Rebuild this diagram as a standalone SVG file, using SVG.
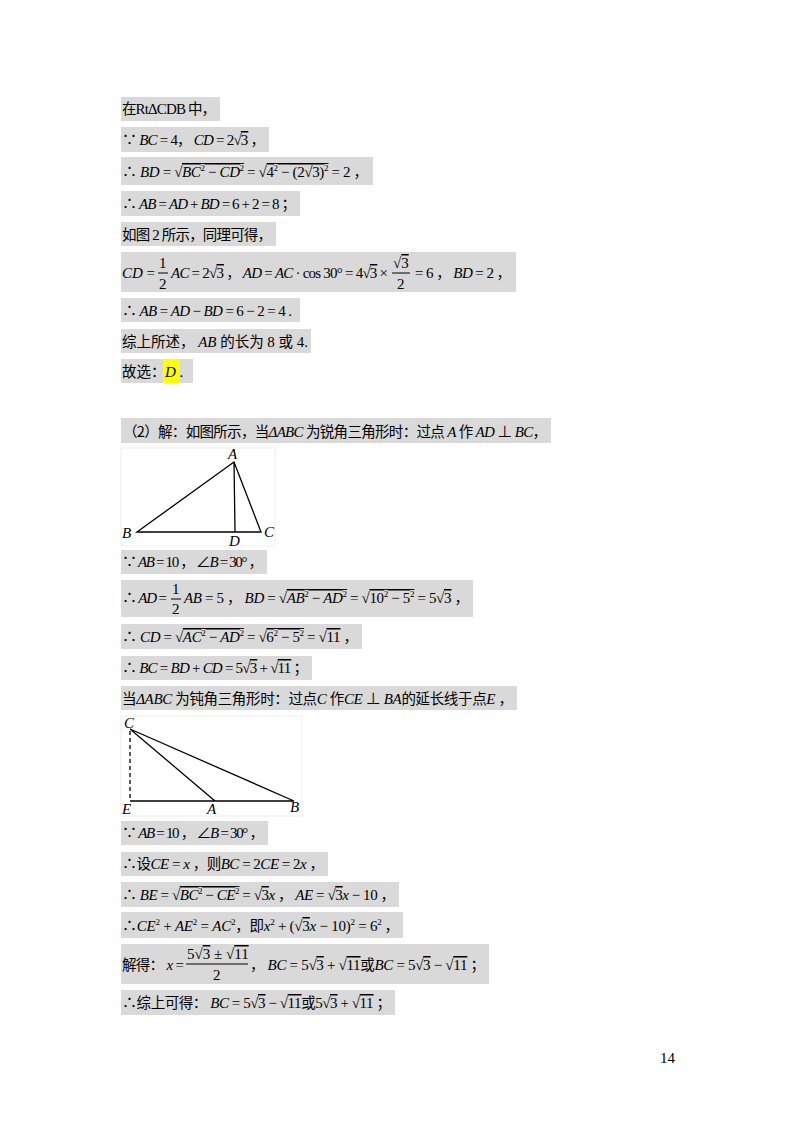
<svg xmlns="http://www.w3.org/2000/svg" width="800" height="1132" viewBox="0 0 800 1132">
<style>
text{font-family:"Liberation Serif","Noto Sans CJK SC",serif;font-size:15px;fill:#000}
.i{font-style:italic}
.c{font-family:"Noto Sans CJK SC","Liberation Sans",sans-serif;font-size:14.5px}
.s{font-size:9px}
.o{text-decoration:overline}
.bg{fill:#d9d9d9}
.fig{fill:#fff;stroke:#eee}
.ln{stroke:#000;stroke-width:1.3;fill:none}
</style>
<rect width="800" height="1132" fill="#fff"/>
<g id="boxes">
<rect class="bg" x="121" y="97" width="99" height="24"/>
<rect class="bg" x="121" y="127" width="148" height="25"/>
<rect class="bg" x="121" y="157" width="252" height="28"/>
<rect class="bg" x="121" y="191" width="179" height="25"/>
<rect class="bg" x="121" y="222" width="155" height="24"/>
<rect class="bg" x="121" y="252" width="395" height="40"/>
<rect class="bg" x="121" y="298" width="179" height="24"/>
<rect class="bg" x="121" y="329" width="190" height="24"/>
<rect class="bg" x="121" y="359" width="72" height="24"/>
<rect x="163" y="359" width="17" height="24" fill="#ffff00"/>
<rect class="bg" x="121" y="418" width="430" height="25"/>
<rect class="bg" x="121" y="550" width="146" height="24"/>
<rect class="bg" x="121" y="580" width="352" height="37"/>
<rect class="bg" x="121" y="624" width="241" height="25"/>
<rect class="bg" x="121" y="656" width="191" height="24"/>
<rect class="bg" x="121" y="686" width="396" height="24"/>
<rect class="bg" x="121" y="821" width="147" height="24"/>
<rect class="bg" x="121" y="852" width="207" height="24"/>
<rect class="bg" x="121" y="882" width="278" height="25"/>
<rect class="bg" x="121" y="912" width="282" height="26"/>
<rect class="bg" x="121" y="944" width="368" height="40"/>
<rect class="bg" x="121" y="990" width="274" height="25"/>
</g>
<g id="text">
<text x="122" y="114" textLength="94" lengthAdjust="spacing"><tspan class="c">在</tspan>RtΔCDB <tspan class="c">中，</tspan></text>
<text x="122" y="145" textLength="143" lengthAdjust="spacing">∵ <tspan class="i">BC</tspan> = 4<tspan class="c">，</tspan> <tspan class="i">CD</tspan> = 2√<tspan class="o">3</tspan> <tspan class="c">，</tspan></text>
<text x="122" y="177" textLength="246" lengthAdjust="spacing">∴ <tspan class="i">BD</tspan> = √<tspan class="o"><tspan class="i">BC</tspan><tspan class="s" dy="-6">2</tspan><tspan dy="6"> − </tspan><tspan class="i">CD</tspan><tspan class="s" dy="-6">2</tspan></tspan><tspan dy="6"> = √</tspan><tspan class="o">4<tspan class="s" dy="-6">2</tspan><tspan dy="6"> − (2√3)</tspan><tspan class="s" dy="-6">2</tspan></tspan><tspan dy="6"> = 2 </tspan><tspan class="c">，</tspan></text>
<text x="122" y="209" textLength="174" lengthAdjust="spacing">∴ <tspan class="i">AB</tspan> = <tspan class="i">AD</tspan> + <tspan class="i">BD</tspan> = 6 + 2 = 8 <tspan class="c">；</tspan></text>
<text x="122" y="240" textLength="150" lengthAdjust="spacing"><tspan class="c">如图</tspan> 2 <tspan class="c">所示，同理可得，</tspan></text>
<text x="122" y="278" textLength="33" lengthAdjust="spacing"><tspan class="i">CD</tspan> =</text>
<text x="159" y="268">1</text><line x1="158" y1="273" x2="168" y2="273" stroke="#000"/><text x="159" y="289">2</text>
<text x="171" y="278" textLength="217" lengthAdjust="spacing"><tspan class="i">AC</tspan> = 2√<tspan class="o">3</tspan> <tspan class="c">，</tspan> <tspan class="i">AD</tspan> = <tspan class="i">AC</tspan> · cos 30° = 4√<tspan class="o">3</tspan> ×</text>
<text x="393" y="268">√<tspan class="o">3</tspan></text><line x1="392" y1="273" x2="410" y2="273" stroke="#000"/><text x="397" y="289">2</text>
<text x="415" y="278" textLength="96" lengthAdjust="spacing">= 6 <tspan class="c">，</tspan> <tspan class="i">BD</tspan> = 2 <tspan class="c">，</tspan></text>
<text x="122" y="316" textLength="170" lengthAdjust="spacing">∴ <tspan class="i">AB</tspan> = <tspan class="i">AD</tspan> − <tspan class="i">BD</tspan> = 6 − 2 = 4 .</text>
<text x="122" y="347" textLength="186" lengthAdjust="spacing"><tspan class="c">综上所述，</tspan> <tspan class="i">AB</tspan> <tspan class="c">的长为</tspan> 8 <tspan class="c">或</tspan> 4.</text>
<text x="122" y="377"><tspan class="c">故选：</tspan> <tspan class="i" x="165">D</tspan> .</text>
<text x="123" y="437" textLength="424" lengthAdjust="spacing"><tspan class="c">（2）解：如图所示，当</tspan><tspan class="i">ΔABC</tspan> <tspan class="c">为锐角三角形时：过点</tspan> <tspan class="i">A</tspan> <tspan class="c">作</tspan> <tspan class="i">AD</tspan> ⊥ <tspan class="i">BC</tspan><tspan class="c">，</tspan></text>
<text x="122" y="567" textLength="141" lengthAdjust="spacing">∵ <tspan class="i">AB</tspan> = 10 <tspan class="c">，</tspan> ∠<tspan class="i">B</tspan> = 30° <tspan class="c">，</tspan></text>
<text x="122" y="603" textLength="45" lengthAdjust="spacing">∴ <tspan class="i">AD</tspan> =</text>
<text x="172" y="594">1</text><line x1="171" y1="599" x2="181" y2="599" stroke="#000"/><text x="172" y="614">2</text>
<text x="184" y="603" textLength="285" lengthAdjust="spacing"><tspan class="i">AB</tspan> = 5 <tspan class="c">，</tspan> <tspan class="i">BD</tspan> = √<tspan class="o"><tspan class="i">AB</tspan><tspan class="s" dy="-6">2</tspan><tspan dy="6"> − </tspan><tspan class="i">AD</tspan><tspan class="s" dy="-6">2</tspan></tspan><tspan dy="6"> = √</tspan><tspan class="o">10<tspan class="s" dy="-6">2</tspan><tspan dy="6"> − 5</tspan><tspan class="s" dy="-6">2</tspan></tspan><tspan dy="6"> = 5√</tspan><tspan class="o">3</tspan> <tspan class="c">，</tspan></text>
<text x="122" y="642" textLength="236" lengthAdjust="spacing">∴ <tspan class="i">CD</tspan> = √<tspan class="o"><tspan class="i">AC</tspan><tspan class="s" dy="-6">2</tspan><tspan dy="6"> − </tspan><tspan class="i">AD</tspan><tspan class="s" dy="-6">2</tspan></tspan><tspan dy="6"> = √</tspan><tspan class="o">6<tspan class="s" dy="-6">2</tspan><tspan dy="6"> − 5</tspan><tspan class="s" dy="-6">2</tspan></tspan><tspan dy="6"> = √</tspan><tspan class="o">11</tspan> <tspan class="c">，</tspan></text>
<text x="122" y="673" textLength="186" lengthAdjust="spacing">∴ <tspan class="i">BC</tspan> = <tspan class="i">BD</tspan> + <tspan class="i">CD</tspan> = 5√<tspan class="o">3</tspan> + √<tspan class="o">11</tspan> <tspan class="c">；</tspan></text>
<text x="122" y="704" textLength="391" lengthAdjust="spacing"><tspan class="c">当</tspan><tspan class="i">ΔABC</tspan> <tspan class="c">为钝角三角形时：过点</tspan><tspan class="i">C</tspan> <tspan class="c">作</tspan><tspan class="i">CE</tspan> ⊥ <tspan class="i">BA</tspan><tspan class="c">的延长线于点</tspan><tspan class="i">E</tspan> <tspan class="c">，</tspan></text>
<text x="122" y="838" textLength="142" lengthAdjust="spacing">∵ <tspan class="i">AB</tspan> = 10 <tspan class="c">，</tspan> ∠<tspan class="i">B</tspan> = 30° <tspan class="c">，</tspan></text>
<text x="122" y="869" textLength="202" lengthAdjust="spacing">∴<tspan class="c">设</tspan><tspan class="i">CE</tspan> = <tspan class="i">x</tspan> <tspan class="c">，则</tspan><tspan class="i">BC</tspan> = 2<tspan class="i">CE</tspan> = 2<tspan class="i">x</tspan> <tspan class="c">，</tspan></text>
<text x="122" y="900" textLength="273" lengthAdjust="spacing">∴ <tspan class="i">BE</tspan> = √<tspan class="o"><tspan class="i">BC</tspan><tspan class="s" dy="-6">2</tspan><tspan dy="6"> − </tspan><tspan class="i">CE</tspan><tspan class="s" dy="-6">2</tspan></tspan><tspan dy="6"> = √</tspan><tspan class="o">3</tspan><tspan class="i">x</tspan> <tspan class="c">，</tspan> <tspan class="i">AE</tspan> = √<tspan class="o">3</tspan><tspan class="i">x</tspan> − 10 <tspan class="c">，</tspan></text>
<text x="122" y="931" textLength="277" lengthAdjust="spacing">∴<tspan class="i">CE</tspan><tspan class="s" dy="-6">2</tspan><tspan dy="6"> + </tspan><tspan class="i">AE</tspan><tspan class="s" dy="-6">2</tspan><tspan dy="6"> = </tspan><tspan class="i">AC</tspan><tspan class="s" dy="-6">2</tspan><tspan class="c" dy="6">，即</tspan><tspan class="i">x</tspan><tspan class="s" dy="-6">2</tspan><tspan dy="6"> + (√</tspan><tspan class="o">3</tspan><tspan class="i">x</tspan> − 10)<tspan class="s" dy="-6">2</tspan><tspan dy="6"> = 6</tspan><tspan class="s" dy="-6">2</tspan><tspan class="c" dy="6"> ，</tspan></text>
<text x="122" y="970" textLength="62" lengthAdjust="spacing"><tspan class="c">解得：</tspan> <tspan class="i">x</tspan> =</text>
<text x="187" y="959">5√<tspan class="o">3</tspan> ± √<tspan class="o">11</tspan></text><line x1="186" y1="964" x2="248" y2="964" stroke="#000"/><text x="213" y="980">2</text>
<text x="250" y="970" textLength="235" lengthAdjust="spacing"><tspan class="c">，</tspan> <tspan class="i">BC</tspan> = 5√<tspan class="o">3</tspan> + √<tspan class="o">11</tspan><tspan class="c">或</tspan><tspan class="i">BC</tspan> = 5√<tspan class="o">3</tspan> − √<tspan class="o">11</tspan> <tspan class="c">；</tspan></text>
<text x="122" y="1008" textLength="269" lengthAdjust="spacing">∴<tspan class="c">综上可得：</tspan> <tspan class="i">BC</tspan> = 5√<tspan class="o">3</tspan> − √<tspan class="o">11</tspan><tspan class="c">或</tspan>5√<tspan class="o">3</tspan> + √<tspan class="o">11</tspan> <tspan class="c">；</tspan></text>
<text x="660" y="1063" font-size="13">14</text>
</g>
<g id="figure1">
<rect class="fig" x="121" y="448" width="154" height="98"/>
<path class="ln" d="M137 532 L234 462 L261 532 Z M234 462 L235 532"/>
<text class="i" x="228" y="459">A</text>
<text class="i" x="122" y="538">B</text>
<text class="i" x="229" y="546">D</text>
<text class="i" x="264" y="537">C</text>
</g>
<g id="figure2">
<rect class="fig" x="121" y="716" width="181" height="100"/>
<path class="ln" d="M130 729 L215 801 M130 729 L294 801 M130 801 L294 801"/>
<path class="ln" d="M130 731 L130 801" stroke-dasharray="4 3"/>
<text class="i" x="124" y="728">C</text>
<text class="i" x="122" y="814">E</text>
<text class="i" x="207" y="814">A</text>
<text class="i" x="290" y="812">B</text>
</g>
</svg>
